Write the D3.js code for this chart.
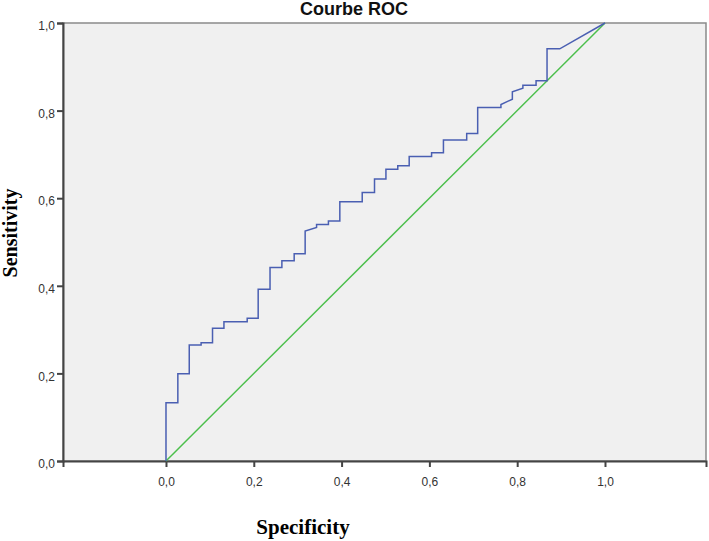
<!DOCTYPE html>
<html>
<head>
<meta charset="utf-8">
<script src="https://cdn.jsdelivr.net/npm/d3@7"></script>
<style>
  body { margin: 0; background: #fff; }
  svg { display: block; }
  .tick text { font-family: "Liberation Sans", Arial, sans-serif; font-size: 12px; fill: #333; }
</style>
</head>
<body>
<svg id="chart"></svg>
<script>
// ROC curve points (1 - specificity, sensitivity)
const fpr = [0, 0, 0.027, 0.027, 0.053, 0.053, 0.080, 0.080, 0.106, 0.106, 0.132, 0.132,
  0.185, 0.185, 0.210, 0.210, 0.237, 0.237, 0.264, 0.264, 0.292, 0.292, 0.317, 0.317,
  0.343, 0.343, 0.370, 0.370, 0.396, 0.396, 0.447, 0.447, 0.475, 0.475, 0.501, 0.501,
  0.528, 0.528, 0.554, 0.554, 0.605, 0.605, 0.632, 0.632, 0.685, 0.685, 0.710, 0.710,
  0.763, 0.763, 0.789, 0.789, 0.813, 0.813, 0.843, 0.843, 0.868, 0.868, 0.897, 1];
const tpr = [0, 0.133, 0.133, 0.199, 0.199, 0.265, 0.265, 0.270, 0.270, 0.303, 0.303, 0.318,
  0.318, 0.326, 0.326, 0.392, 0.392, 0.442, 0.442, 0.457, 0.457, 0.473, 0.473, 0.525,
  0.533, 0.540, 0.540, 0.548, 0.548, 0.592, 0.592, 0.613, 0.613, 0.644, 0.644, 0.666,
  0.666, 0.674, 0.674, 0.695, 0.695, 0.704, 0.704, 0.733, 0.733, 0.748, 0.748, 0.807,
  0.807, 0.814, 0.826, 0.843, 0.851, 0.858, 0.858, 0.868, 0.868, 0.941, 0.941, 1];
const refLine = [[0, 0], [1, 1]];
const tickVals = [0, 0.2, 0.4, 0.6, 0.8, 1.0];

const width = 709, height = 541;
const svg = d3.select("#chart").attr("width", width).attr("height", height);

// x domain extends past 0..1 like the original frame
const x = d3.scaleLinear().domain([-0.2346, 1.2301]).range([63, 706]);
const y = d3.scaleLinear().domain([0, 1]).range([461, 23]);
const fmt = function (d) { return d3.format(".1f")(d).replace(".", ","); };

// plot area
svg.append("rect")
    .attr("x", x.range()[0]).attr("y", y.range()[1])
    .attr("width", x.range()[1] - x.range()[0])
    .attr("height", y.range()[0] - y.range()[1])
    .attr("fill", "#f0f0f0")
    .attr("stroke", "#8a8a8a")
    .attr("stroke-width", 1.5);

// axes
const xAxis = svg.append("g")
    .attr("transform", "translate(0," + y(0) + ")")
    .call(d3.axisBottom(x).tickValues(tickVals).tickFormat(fmt).tickSize(6).tickPadding(10));
xAxis.select(".domain").attr("stroke", "#444").attr("stroke-width", 2);
xAxis.selectAll(".tick line").attr("stroke", "#444").attr("stroke-width", 2);

const yAxis = svg.append("g")
    .attr("transform", "translate(" + x.range()[0] + ",0)")
    .call(d3.axisLeft(y).tickValues(tickVals).tickFormat(fmt).tickSize(6).tickPadding(2));
yAxis.select(".domain").attr("stroke", "#444").attr("stroke-width", 2);
yAxis.selectAll(".tick line").attr("stroke", "#444").attr("stroke-width", 2);
yAxis.selectAll(".tick text").attr("dy", "0.55em");

// diagonal reference
svg.append("path")
    .datum(refLine)
    .attr("fill", "none")
    .attr("stroke", "#4cbf4c")
    .attr("stroke-width", 1.5)
    .attr("d", d3.line().x(function (d) { return x(d[0]); }).y(function (d) { return y(d[1]); }));

// ROC curve
const rocPts = fpr.map(function (v, i) { return [v, tpr[i]]; });
svg.append("path")
    .datum(rocPts)
    .attr("fill", "none")
    .attr("stroke", "#4a5fb2")
    .attr("stroke-width", 1.5)
    .attr("d", d3.line().x(function (d) { return x(d[0]); }).y(function (d) { return y(d[1]); }));

// titles
svg.append("text")
    .attr("x", 354).attr("y", 15)
    .attr("text-anchor", "middle")
    .style("font-family", "'Liberation Sans', Arial, sans-serif")
    .style("font-weight", "bold")
    .style("font-size", "18px")
    .style("fill", "#111")
    .text("Courbe ROC");

svg.append("text")
    .attr("transform", "translate(17,233) rotate(-90)")
    .attr("text-anchor", "middle")
    .style("font-family", "'Liberation Serif', 'Times New Roman', serif")
    .style("font-weight", "bold")
    .style("font-size", "20px")
    .style("fill", "#000")
    .text("Sensitivity");

svg.append("text")
    .attr("x", 303).attr("y", 534)
    .attr("text-anchor", "middle")
    .style("font-family", "'Liberation Serif', 'Times New Roman', serif")
    .style("font-weight", "bold")
    .style("font-size", "21px")
    .style("fill", "#000")
    .text("Specificity");
</script>
</body>
</html>
